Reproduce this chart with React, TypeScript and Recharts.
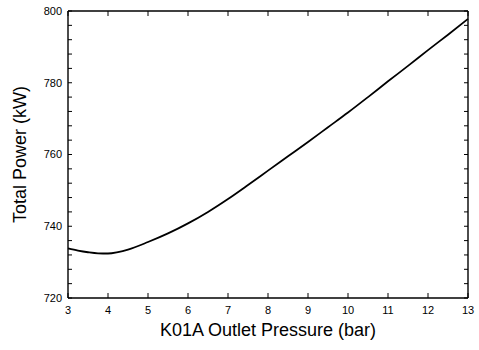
import { ComposedChart, Line, XAxis, YAxis } from "recharts"

const pressure = [3, 3.25, 3.5, 3.75, 4, 4.25, 4.5, 5, 5.5, 6, 6.5, 7, 7.5, 8, 8.5, 9, 9.5, 10, 10.5, 11, 11.5, 12, 12.5, 13]
const totalPower = [
  733.8, 733.2, 732.75, 732.45, 732.4, 732.8, 733.5, 735.6, 738.0, 740.8, 744.0, 747.6, 751.5, 755.5,
  759.5, 763.5, 767.6, 771.7, 776.0, 780.4, 784.7, 789.1, 793.4, 797.8,
]

const xTicks = [3, 4, 5, 6, 7, 8, 9, 10, 11, 12, 13]
const yTicks = [720, 724, 728, 732, 736, 740, 744, 748, 752, 756, 760, 764, 768, 772, 776, 780, 784, 788, 792, 796, 800]

const data = pressure.map((p, i) => ({ p, kw: totalPower[i] }))

const font = "Liberation Sans, Arial, sans-serif"
const axisLine = { stroke: "#000", strokeWidth: 1.4 }
const tickLine = { stroke: "#000", strokeWidth: 1 }

export default function App() {
  return (
    <div style={{ position: "absolute", left: 0, top: 0, background: "#fff" }}>
      <ComposedChart width={479} height={350} data={data} margin={{ top: 10, right: 10, left: 0, bottom: 0 }}>
        <XAxis
          dataKey="p"
          type="number"
          domain={[3, 13]}
          ticks={xTicks}
          height={52}
          tickSize={-5}
          tickMargin={13}
          axisLine={axisLine}
          tickLine={tickLine}
          tick={{ fill: "#000", fontSize: 11, fontFamily: font }}
          label={{ value: "K01A Outlet Pressure (bar)", position: "insideBottom", offset: 14, fill: "#000", fontSize: 18, fontFamily: font }}
        />
        <XAxis
          xAxisId="top"
          dataKey="p"
          type="number"
          orientation="top"
          domain={[3, 13]}
          ticks={xTicks}
          height={1}
          tickSize={-5}
          axisLine={axisLine}
          tickLine={tickLine}
          tickFormatter={() => ""}
        />
        <YAxis
          type="number"
          domain={[720, 800]}
          ticks={yTicks}
          width={68}
          tickSize={-4}
          tickMargin={10}
          interval={0}
          axisLine={axisLine}
          tickLine={tickLine}
          tick={{ fill: "#000", fontSize: 11, fontFamily: font }}
          tickFormatter={(v: number) => (v % 20 === 0 ? String(v) : "")}
          label={{ value: "Total Power (kW)", angle: -90, position: "insideLeft", offset: 20, fill: "#000", fontSize: 18, fontFamily: font, style: { textAnchor: "middle" } }}
        />
        <YAxis
          yAxisId="right"
          orientation="right"
          type="number"
          domain={[720, 800]}
          ticks={yTicks}
          width={1}
          tickSize={-4}
          interval={0}
          axisLine={axisLine}
          tickLine={tickLine}
          tickFormatter={() => ""}
        />
        <Line
          xAxisId="top"
          yAxisId="right"
          type="monotone"
          dataKey="kw"
          stroke="none"
          dot={false}
          legendType="none"
          isAnimationActive={false}
        />
        <Line
          type="monotone"
          dataKey="kw"
          stroke="#000"
          strokeWidth={1.8}
          dot={false}
          isAnimationActive={false}
        />
      </ComposedChart>
    </div>
  )
}
